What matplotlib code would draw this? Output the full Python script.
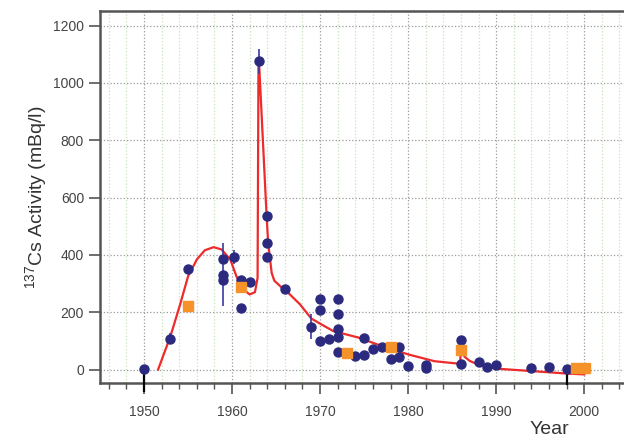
import numpy as np
import matplotlib.pyplot as plt
from matplotlib.ticker import MultipleLocator

plt.rcParams['font.family'] = ['Liberation Sans', 'DejaVu Sans']
plt.rcParams['mathtext.fontset'] = 'custom'
plt.rcParams['mathtext.rm'] = 'Liberation Sans'

# measured 137Cs activities (blue circles)
meas_year = [1950, 1953, 1955, 1959, 1959, 1959, 1960.2, 1961, 1961, 1962,
             1963.1, 1964, 1964, 1964, 1966, 1969, 1970, 1970, 1970, 1971,
             1972, 1972, 1972, 1972, 1972, 1974, 1975, 1975, 1976, 1977,
             1978, 1979, 1979, 1980, 1982, 1982, 1986, 1986, 1988, 1989,
             1990, 1994, 1996, 1998]
meas_val = [2, 108, 351, 386, 331, 311, 393, 314, 215, 307,
            1075, 537, 442, 392, 281, 150, 247, 209, 99, 108,
            247, 195, 143, 114, 62, 47, 109, 52, 70, 80,
            37, 79, 45, 13, 16, 4, 102, 21, 25, 8,
            17, 6, 9, 2]
meas_err = [0, 20, 0, 0, 110, 0, 25, 0, 0, 0,
            45, 0, 0, 0, 0, 45, 0, 0, 0, 0,
            0, 0, 0, 0, 0, 0, 0, 0, 0, 0,
            0, 0, 0, 0, 0, 0, 0, 0, 0, 0,
            0, 0, 0, 0]

# second data set (orange squares)
sq_year = [1955, 1961, 1973, 1978, 1986, 1999.1, 2000.1]
sq_val = [221, 287, 57, 80, 67, 6, 4]

# lower-limit bars (black)
low_year = [1950, 1998]
low_top = [0, -15]
low_bottom = [-80, -55]

# model curve
model_year = [1951.6, 1953.0, 1954.1, 1955.0, 1956.0, 1956.9, 1957.9, 1958.8,
              1959.8, 1960.5, 1961.3, 1962.0, 1962.6, 1962.9, 1963.0, 1963.1,
              1963.5, 1963.9, 1964.1, 1964.5, 1964.8, 1965.5, 1966.2, 1967.7,
              1969.0, 1970.0, 1971.5, 1974.3, 1977.1, 1980.1, 1983.0, 1985.9,
              1986.0, 1986.4, 1987.0, 1988.2, 1990.1, 1994.3, 1998.0, 2000.0]
model_val = [0, 116, 227, 325, 384, 416, 427, 419,
             384, 325, 279, 262, 270, 320, 1070, 1050,
             800, 550, 442, 337, 310, 290, 273, 228,
             178, 160, 134, 112, 81, 52, 29, 20,
             82, 45, 30, 14, 3, -6, -14, -17]

fig = plt.figure(figsize=(6.24, 4.36), dpi=100)
ax = fig.add_axes([100 / 624, 1 - 383 / 436, 530 / 624, 372 / 436])

ax.set_xlim(1945, 2005.2)
ax.set_ylim(-47, 1251)

ax.xaxis.set_major_locator(MultipleLocator(10))
ax.xaxis.set_minor_locator(MultipleLocator(2))
ax.yaxis.set_major_locator(MultipleLocator(200))

ax.grid(which='major', axis='both', color='#9a9a9a', linestyle=':', linewidth=0.9)
ax.grid(which='minor', axis='x', color='#c8e2bc', linestyle=':', linewidth=0.9)
ax.set_axisbelow(True)

for side in ['left', 'bottom', 'top']:
    ax.spines[side].set_color('#555555')
    ax.spines[side].set_linewidth(1.8)
ax.spines['right'].set_visible(False)

ax.tick_params(axis='both', which='major', direction='out', length=8, width=1.2,
               color='#555555', labelsize=10, labelcolor='#444444')
ax.tick_params(axis='x', which='major', pad=8)
ax.tick_params(axis='x', which='minor', direction='out', length=4, width=1.0,
               color='#555555')

ax.vlines(low_year, low_bottom, low_top, colors='black', linewidth=1.6,
          clip_on=False, zorder=4)

ax.plot(model_year, model_val, color='#ee2a2a', linewidth=1.6, zorder=3)

ax.errorbar(meas_year, meas_val, yerr=meas_err, fmt='o', color='#2b2a7e',
            ecolor='#3a3aa0', elinewidth=1.2, capsize=0, markersize=6.5,
            zorder=5)
ax.plot(sq_year, sq_val, 's', color='#f5922a', markersize=7.5, zorder=6)

ax.set_ylabel(r'$^{137}$Cs Activity (mBq/l)', fontsize=14, color='#333333',
              labelpad=2)
fig.text(549 / 624, 1 - 429 / 436, 'Year', fontsize=14, color='#333333',
         ha='center', va='center')

fig.savefig('out.png', dpi=100)
